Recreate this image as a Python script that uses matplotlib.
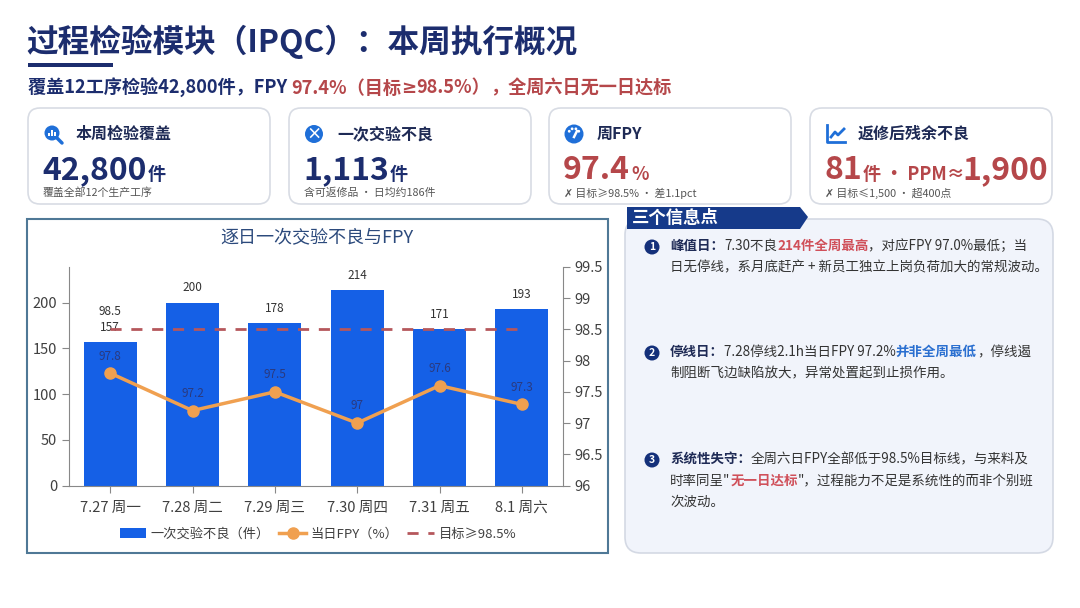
import matplotlib
matplotlib.use("Agg")
import matplotlib.pyplot as plt
from matplotlib.patches import FancyBboxPatch, Circle, Polygon, Rectangle
import numpy as np

plt.rcParams['font.family'] = ['Noto Sans CJK SC', 'DejaVu Sans']
plt.rcParams['axes.unicode_minus'] = False

# ---------------- data ----------------
days = ["7.27 周一", "7.28 周二", "7.29 周三", "7.30 周四", "7.31 周五", "8.1 周六"]
defects = [157, 200, 178, 214, 171, 193]
fpy = [97.8, 97.2, 97.5, 97.0, 97.6, 97.3]
fpy_labels = ["97.8", "97.2", "97.5", "97", "97.6", "97.3"]
target = [98.5] * 6
left_ticks = [0, 50, 100, 150, 200]
right_ticks = [96, 96.5, 97, 97.5, 98, 98.5, 99, 99.5]
right_tick_labels = ["96", "96.5", "97", "97.5", "98", "98.5", "99", "99.5"]

kpi_titles = ["本周检验覆盖", "一次交验不良", "周FPY", "返修后残余不良"]
kpi_values = ["42,800", "1,113", "97.4", "81"]
kpi_units = ["件", "件", "%", "件 · PPM≈"]
kpi_extra = ["", "", "", "1,900"]
kpi_notes = ["覆盖全部12个生产工序", "含可返修品 · 日均约186件",
             "✗ 目标≥98.5% · 差1.1pct", "✗ 目标≤1,500 · 超400点"]

NAVY = "#1c2d6e"
RED = "#b5474a"
BLUE = "#1560e6"
ORANGE = "#f0a050"

W, H = 1080, 608
fig = plt.figure(figsize=(10.8, 6.08), dpi=100)
fig.patch.set_facecolor("white")
bg = fig.add_axes([0, 0, 1, 1])
bg.set_xlim(0, W)
bg.set_ylim(H, 0)
bg.axis("off")

renderer = fig.canvas.get_renderer()
LAT = ['DejaVu Sans', 'Noto Sans CJK SC']


def rich(x, y, segs, size, va="center"):
    """Draw consecutive text segments [(text, color, weight[, family])] from pixel x."""
    cx = x
    for seg in segs:
        txt, col, wt = seg[:3]
        kw = {}
        if len(seg) > 3:
            kw["family"] = seg[3]
        t = bg.text(cx, y, txt, fontsize=size, color=col, fontweight=wt,
                    ha="left", va=va, **kw)
        bb = t.get_window_extent(renderer=renderer)
        cx += bb.width
    return cx


# ---------------- header ----------------
bg.text(26, 42, "过程检验模块（IPQC）：本周执行概况", fontsize=22.8, fontweight="bold",
        color=NAVY, ha="left", va="center")
bg.add_patch(Rectangle((28, 63), 85, 3.5, color=NAVY, lw=0))
rich(28, 88, [("覆盖12工序检验42,800件，FPY ", NAVY, "bold"),
              ("97.4%（目标", RED, "bold"), ("≥", RED, "bold", LAT),
              ("98.5%）", RED, "bold"),
              ("，全周六日无一日达标", RED, "bold")], 13.1)

# ---------------- KPI cards ----------------
card_x = [28, 289, 549, 810]
card_w = 242
for i in range(4):
    x0 = card_x[i]
    bg.add_patch(FancyBboxPatch((x0, 108), card_w, 96,
                                boxstyle="round,pad=0,rounding_size=12",
                                fc="white", ec="#d8dce4", lw=1.2))
    ix, iy = x0 + 25, 134
    if i == 0:
        bg.add_patch(Circle((ix - 1, iy - 1), 7.5, fc="#1f6fd8", ec="none"))
        bg.plot([ix + 4, ix + 9], [iy + 4, iy + 9], color="#1f6fd8", lw=2.5,
                solid_capstyle="round")
        for k, hh in enumerate([3, 6, 4]):
            bg.add_patch(Rectangle((ix - 5 + k * 3.2, iy + 2 - hh), 1.8, hh,
                                   color="white", lw=0))
    elif i == 1:
        bg.add_patch(Circle((ix, iy), 9, fc="#1f6fd8", ec="none"))
        bg.text(ix, iy, "×", fontsize=11, color="white", fontweight="bold",
                ha="center", va="center")
    elif i == 2:
        bg.add_patch(Circle((ix, iy), 9.5, fc="#1f6fd8", ec="none"))
        for ang in [150, 110, 70, 30]:
            a = np.radians(ang)
            bg.add_patch(Circle((ix + 5.5 * np.cos(a), iy - 5.5 * np.sin(a)), 1.4,
                                fc="white", ec="none"))
        bg.plot([ix, ix + 3], [iy + 3, iy - 3], color="white", lw=1.8)
    else:
        bg.plot([ix - 8, ix - 8, ix + 10], [iy - 9, iy + 8, iy + 8],
                color="#1f6fd8", lw=2)
        bg.plot([ix - 4, ix + 0, ix + 3, ix + 9], [iy + 3, iy - 2, iy + 1, iy - 5],
                color="#1f6fd8", lw=2)
    bg.text(x0 + 48, 134, kpi_titles[i], fontsize=11.5, fontweight="bold",
            color="#1e2a55", ha="left", va="center")
    vcol = NAVY if i < 2 else RED
    end = rich(x0 + 14, 170, [(kpi_values[i], vcol, "bold")], 23)
    t = bg.text(end + 1, 175, kpi_units[i], fontsize=13, fontweight="bold",
                color=vcol, ha="left", va="center")
    if kpi_extra[i]:
        bb = t.get_window_extent(renderer=renderer)
        bg.text(end + bb.width - 1, 170, kpi_extra[i], fontsize=23,
                fontweight="bold", color=vcol, ha="left", va="center")
    bg.text(x0 + 15, 193, kpi_notes[i], fontsize=7.8, color="#555555",
            ha="left", va="center", family=['Noto Sans CJK SC', 'DejaVu Sans'])

# ---------------- chart panel ----------------
bg.add_patch(Rectangle((27, 219), 581, 334, fc="white", ec="#4f7896", lw=1.5))
bg.text(317, 238, "逐日一次交验不良与FPY", fontsize=13, color="#2c4a7c",
        ha="center", va="center")

ax_l, ax_r, ax_t, ax_b = 69, 563, 267, 485.5
ax = fig.add_axes([ax_l / W, 1 - ax_b / H, (ax_r - ax_l) / W, (ax_b - ax_t) / H])
ax.set_facecolor("none")
x = np.arange(len(days))
ax.bar(x, defects, width=0.64, color=BLUE, zorder=2, label="一次交验不良（件）")
ax.set_xlim(-0.5, len(days) - 0.5)
ax.set_ylim(0, 239)
ax.set_yticks(left_ticks)
ax.set_xticks(x)
ax.set_xticklabels(days)
for s in ["top", "right"]:
    ax.spines[s].set_visible(False)
ax.spines["left"].set_color("#888888")
ax.spines["bottom"].set_color("#888888")
ax.tick_params(axis="both", colors="#888888", labelcolor="#404040", labelsize=10.5,
               length=5)
ax.tick_params(axis="x", pad=6)
for xi, v in zip(x, defects):
    ax.text(xi, v + 9, str(v), ha="center", va="bottom", fontsize=8.5, color="#333333")

ax2 = ax.twinx()
ax2.set_ylim(96, 99.5)
ax2.set_yticks(right_ticks)
ax2.set_yticklabels(right_tick_labels)
for s in ["top", "left", "bottom"]:
    ax2.spines[s].set_visible(False)
ax2.spines["right"].set_color("#888888")
ax2.tick_params(axis="y", colors="#888888", labelcolor="#404040", labelsize=10.5,
                length=5)
ax2.plot(x, target, linestyle=(0, (4, 3.5)), color="#b5575c", lw=2, zorder=3,
         label="目标≥98.5%")
ax2.plot(x, fpy, color=ORANGE, lw=2.5, marker="o", markersize=8, zorder=4,
         label="当日FPY（%）")
for xi, v, lab in zip(x, fpy, fpy_labels):
    ax2.text(xi, v + 0.17, lab, ha="center", va="bottom", fontsize=8.5,
             color="#2a3a80", zorder=5)
ax2.text(x[0], target[0] + 0.19, "98.5", ha="center", va="bottom", fontsize=8.5,
         color="#333333")

h1, l1 = ax.get_legend_handles_labels()
h2, l2 = ax2.get_legend_handles_labels()
handles = [h1[0], h2[1], h2[0]]
labels = [l1[0], l2[1], l2[0]]
fig.legend(handles, labels, loc="center", bbox_to_anchor=(318 / W, 1 - 534 / H),
           ncol=3, frameon=False, fontsize=9.5, handlelength=2.0, columnspacing=0.7,
           handletextpad=0.35, labelcolor="#404040")

# ---------------- insight panel ----------------
bg.add_patch(FancyBboxPatch((625, 219), 428, 334,
                            boxstyle="round,pad=0,rounding_size=16",
                            fc="#f1f4fb", ec="#d4d9e4", lw=1.2))
bg.add_patch(Polygon([[627, 207], [800, 207], [808, 217], [800, 229], [627, 229]],
                     closed=True, fc="#163a8a", ec="none"))
bg.text(632, 218, "三个信息点", fontsize=12.5, fontweight="bold", color="white",
        ha="left", va="center")

TXT = "#333333"
HL_RED = "#d0505a"
HL_BLUE = "#2a6fd0"
items = [
    (246, [[("峰值日：", "#1e2a55", "bold"), ("7.30不良", TXT, "normal"),
            ("214件全周最高", HL_RED, "bold"), ("，对应FPY 97.0%最低；当", TXT, "normal")],
           [("日无停线，系月底赶产 + 新员工独立上岗负荷加大的常规波动。", TXT, "normal")]]),
    (352, [[("停线日：", "#1e2a55", "bold"), ("7.28停线2.1h当日FPY 97.2%", TXT, "normal"),
            ("并非全周最低", HL_BLUE, "bold"), ("，停线遏", TXT, "normal")],
           [("制阻断飞边缺陷放大，异常处置起到止损作用。", TXT, "normal")]]),
    (459, [[("系统性失守：", "#1e2a55", "bold"),
            ("全周六日FPY全部低于98.5%目标线，与来料及", TXT, "normal")],
           [("时率同呈\"", TXT, "normal"), ("无一日达标", HL_RED, "bold"),
            ("\"，过程能力不足是系统性的而非个别班", TXT, "normal")],
           [("次波动。", TXT, "normal")]]),
]
for n, (y0, lines) in enumerate(items):
    bg.add_patch(Circle((652, y0 + 1), 7.5, fc="#14307a", ec="none"))
    bg.text(652, y0 + 1, str(n + 1), fontsize=7.5, color="white", fontweight="bold",
            ha="center", va="center")
    for k, segs in enumerate(lines):
        rich(670, y0 + k * 21.5, segs, 9.7)

fig.savefig("out.png", dpi=100, facecolor="white")
